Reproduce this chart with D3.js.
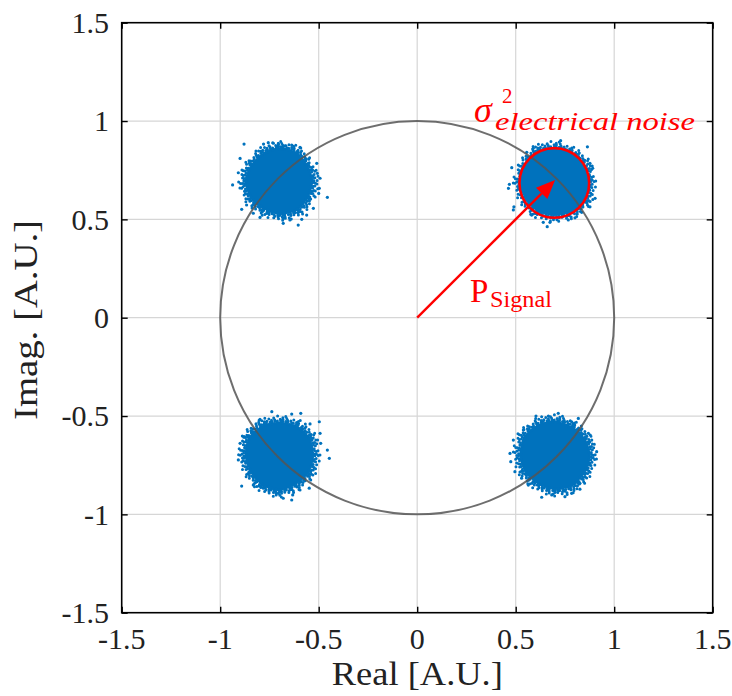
<!DOCTYPE html>
<html>
<head>
<meta charset="utf-8">
<script src="https://cdn.jsdelivr.net/npm/d3@7/dist/d3.min.js"></script>
<style>
  html, body { margin: 0; padding: 0; background: #fff; }
  svg text { font-family: "Liberation Serif", "DejaVu Serif", serif; }
</style>
</head>
<body>
<svg id="chart" width="732" height="696"></svg>
<script>
// Axis ticks (both axes share the same range)
const tickValues = [-1.5, -1, -0.5, 0, 0.5, 1, 1.5];
const tickLabels = ["-1.5", "-1", "-0.5", "0", "0.5", "1", "1.5"];

// QPSK symbol cluster centres (real, imag)
const clusterCenters = [[-0.70, 0.695], [0.70, 0.69], [-0.70, -0.70], [0.70, -0.70]];

// Dense-core outline of each cluster: radius at 0°, 30°, ... 330°
const coreRadii = [
  [0.170, 0.165, 0.170, 0.170, 0.165, 0.165, 0.175, 0.170, 0.165, 0.170, 0.175, 0.170],
  [0.175, 0.175, 0.170, 0.175, 0.180, 0.175, 0.180, 0.175, 0.175, 0.170, 0.175, 0.180],
  [0.175, 0.180, 0.175, 0.170, 0.175, 0.180, 0.175, 0.170, 0.175, 0.180, 0.170, 0.175],
  [0.180, 0.175, 0.170, 0.175, 0.180, 0.185, 0.180, 0.175, 0.170, 0.175, 0.180, 0.175]
];

// Isolated received samples around each cluster
const scatterTL = [
  [-0.879, 0.883], [-0.780, 0.883], [-0.756, 0.890], [-0.730, 0.887], [-0.705, 0.883],
  [-0.671, 0.874], [-0.637, 0.878], [-0.595, 0.866], [-0.899, 0.810], [-0.908, 0.737],
  [-0.937, 0.675], [-0.510, 0.785], [-0.507, 0.734], [-0.493, 0.709], [-0.456, 0.612],
  [-0.497, 0.658], [-0.500, 0.632], [-0.527, 0.556], [-0.891, 0.551], [-0.866, 0.573],
  [-0.832, 0.531], [-0.798, 0.510], [-0.680, 0.505], [-0.680, 0.480], [-0.604, 0.471],
  [-0.646, 0.497], [-0.561, 0.522], [-0.586, 0.500]
];
const scatterTR = [
  [0.728, 0.900], [0.864, 0.869], [0.480, 0.763], [0.468, 0.678], [0.463, 0.658],
  [0.491, 0.564], [0.488, 0.548], [0.903, 0.607], [0.891, 0.760], [0.877, 0.785],
  [0.810, 0.831], [0.556, 0.841], [0.589, 0.861], [0.581, 0.522], [0.640, 0.485],
  [0.674, 0.485], [0.767, 0.497], [0.801, 0.508], [0.835, 0.536], [0.877, 0.564],
  [0.660, 0.463]
];
const scatterBL = [
  [-0.738, -0.478], [-0.637, -0.490], [-0.591, -0.486], [-0.798, -0.517], [-0.818, -0.540],
  [-0.544, -0.540], [-0.497, -0.529], [-0.493, -0.588], [-0.490, -0.639], [-0.456, -0.673],
  [-0.446, -0.715], [-0.891, -0.856], [-0.832, -0.851], [-0.781, -0.867], [-0.705, -0.893],
  [-0.680, -0.918], [-0.637, -0.927], [-0.632, -0.901], [-0.595, -0.876], [-0.548, -0.867],
  [-0.908, -0.723], [-0.899, -0.639], [-0.879, -0.605]
];
const scatterBR = [
  [0.716, -0.486], [0.666, -0.500], [0.603, -0.500], [0.784, -0.529], [0.818, -0.512],
  [0.539, -0.571], [0.488, -0.622], [0.471, -0.690], [0.475, -0.732], [0.496, -0.783],
  [0.911, -0.681], [0.886, -0.622], [0.869, -0.588], [0.874, -0.740], [0.852, -0.774],
  [0.632, -0.913], [0.683, -0.901], [0.750, -0.910], [0.784, -0.893], [0.826, -0.872],
  [0.826, -0.842], [0.530, -0.816], [0.564, -0.851]
];

// Annotation geometry (data units)
const noiseCircle = { x: 0.696, y: 0.685, r: 0.177 };
const signalVector = { x0: 0, y0: 0, x1: 0.70, y1: 0.70 };
const unitRadius = 1;

const svg = d3.select("#chart");
const blue = "#0072BD";
const red = "#FF0000";

const x = d3.scaleLinear().domain([-1.5, 1.5]).range([121.7, 712.7]);
const y = d3.scaleLinear().domain([-1.5, 1.5]).range([612.7, 22.7]);
const ux = Math.abs(x(1) - x(0));
const uy = Math.abs(y(1) - y(0));

// Grid
const grid = svg.append("g");
grid.selectAll(".gx").data(tickValues.slice(1, -1)).join("line")
  .attr("x1", d => x(d)).attr("x2", d => x(d))
  .attr("y1", y(-1.5)).attr("y2", y(1.5))
  .attr("stroke", "#d6d6d6").attr("stroke-width", 1.2);
grid.selectAll(".gy").data(tickValues.slice(1, -1)).join("line")
  .attr("y1", d => y(d)).attr("y2", d => y(d))
  .attr("x1", x(-1.5)).attr("x2", x(1.5))
  .attr("stroke", "#d6d6d6").attr("stroke-width", 1.2);

// Constellation clusters
const blobLine = d3.line().curve(d3.curveCardinalClosed.tension(0.3));
function outline(c, radii, scale) {
  return radii.map((r, i) => {
    const a = i * Math.PI / 6;
    return [x(c[0] + scale * r * Math.cos(a)), y(c[1] + scale * r * Math.sin(a))];
  });
}
// dotted rings that give each core its grainy fringe: [scale, dash offset, dash pattern]
const fringeRings = [
  [0.97, 0.0, "0 1.8 0 2.4 0 1.6 0 2.9"],
  [1.03, 1.1, "0 2.3 0 3.1 0 1.9 0 3.6"],
  [1.08, 2.0, "0 3.2 0 4.6 0 2.7 0 5.8"],
  [1.13, 0.7, "0 4.8 0 7.1 0 3.9 0 9.4"],
  [1.18, 3.3, "0 8.5 0 12.7 0 6.1 0 15.2"]
];
const clusters = svg.append("g");
clusterCenters.forEach((c, k) => {
  const g = clusters.append("g");
  g.append("path").attr("d", blobLine(outline(c, coreRadii[k], 1)))
    .attr("fill", blue);
  fringeRings.forEach(([s, off, dash]) => {
    g.append("path").attr("d", blobLine(outline(c, coreRadii[k], s)))
      .attr("fill", "none").attr("stroke", blue).attr("stroke-width", 3)
      .attr("stroke-linecap", "round")
      .attr("stroke-dasharray", dash).attr("stroke-dashoffset", off + k * 1.7);
  });
});
[scatterTL, scatterTR, scatterBL, scatterBR].forEach(pts => {
  clusters.append("g").selectAll("circle").data(pts).join("circle")
    .attr("cx", d => x(d[0])).attr("cy", d => y(d[1]))
    .attr("r", 1.6).attr("fill", blue);
});

// Unit circle
svg.append("ellipse")
  .attr("cx", x(0)).attr("cy", y(0))
  .attr("rx", unitRadius * ux).attr("ry", unitRadius * uy)
  .attr("fill", "none").attr("stroke", "#555").attr("stroke-opacity", 0.85)
  .attr("stroke-width", 2);

// Axes box with inward ticks on all sides
const frame = svg.append("g");
frame.append("rect")
  .attr("x", x(-1.5)).attr("y", y(1.5))
  .attr("width", x(1.5) - x(-1.5)).attr("height", y(-1.5) - y(1.5))
  .attr("fill", "none").attr("stroke", "#000").attr("stroke-width", 1.6);
const tl = 6;
frame.append("g").attr("transform", `translate(0,${y(-1.5)})`)
  .call(d3.axisBottom(x).tickValues(tickValues).tickSize(-tl).tickFormat(""))
  .call(g => g.select(".domain").remove());
frame.append("g").attr("transform", `translate(0,${y(1.5)})`)
  .call(d3.axisTop(x).tickValues(tickValues).tickSize(-tl).tickFormat(""))
  .call(g => g.select(".domain").remove());
frame.append("g").attr("transform", `translate(${x(-1.5)},0)`)
  .call(d3.axisLeft(y).tickValues(tickValues).tickSize(-tl).tickFormat(""))
  .call(g => g.select(".domain").remove());
frame.append("g").attr("transform", `translate(${x(1.5)},0)`)
  .call(d3.axisRight(y).tickValues(tickValues).tickSize(-tl).tickFormat(""))
  .call(g => g.select(".domain").remove());
frame.selectAll(".tick line").attr("stroke", "#000").attr("stroke-width", 1.4);

// Tick labels
svg.append("g").selectAll("text").data(tickValues).join("text")
  .attr("x", d => x(d)).attr("y", 649)
  .attr("text-anchor", "middle").attr("font-size", 30).attr("fill", "#222")
  .text((d, i) => tickLabels[i]);
svg.append("g").selectAll("text").data(tickValues).join("text")
  .attr("x", 109).attr("y", d => y(d)).attr("dy", "0.34em")
  .attr("text-anchor", "end").attr("font-size", 30).attr("fill", "#222")
  .text((d, i) => tickLabels[i]);

// Axis titles
svg.append("text").attr("x", 417.3).attr("y", 685)
  .attr("text-anchor", "middle").attr("font-size", 34).attr("fill", "#222")
  .attr("textLength", 171).attr("lengthAdjust", "spacingAndGlyphs")
  .text("Real [A.U.]");
svg.append("text").attr("transform", "translate(37,320) rotate(-90)")
  .attr("text-anchor", "middle").attr("font-size", 33).attr("fill", "#222")
  .attr("textLength", 200).attr("lengthAdjust", "spacingAndGlyphs")
  .text("Imag.  [A.U.]");

// Noise circle around the first-quadrant symbol
svg.append("ellipse")
  .attr("cx", x(noiseCircle.x)).attr("cy", y(noiseCircle.y))
  .attr("rx", noiseCircle.r * ux).attr("ry", noiseCircle.r * uy)
  .attr("fill", "none").attr("stroke", red).attr("stroke-width", 2.6);

// Signal vector with arrowhead
const ax0 = x(signalVector.x0), ay0 = y(signalVector.y0);
const ax1 = x(signalVector.x1), ay1 = y(signalVector.y1);
const ang = Math.atan2(ay1 - ay0, ax1 - ax0);
const headLen = 19, headHalf = 8;
const bx = ax1 - headLen * Math.cos(ang), by = ay1 - headLen * Math.sin(ang);
svg.append("line")
  .attr("x1", ax0).attr("y1", ay0).attr("x2", bx).attr("y2", by)
  .attr("stroke", red).attr("stroke-width", 2.4);
svg.append("path")
  .attr("d", `M${ax1},${ay1}L${bx + headHalf * Math.sin(ang)},${by - headHalf * Math.cos(ang)}L${bx - headHalf * Math.sin(ang)},${by + headHalf * Math.cos(ang)}Z`)
  .attr("fill", red);

// Annotation labels
const sig = svg.append("text").attr("fill", red);
sig.append("tspan").attr("x", 470).attr("y", 302).attr("font-size", 33).text("P");
sig.append("tspan").attr("x", 490).attr("y", 307).attr("font-size", 24)
  .attr("textLength", 62).attr("lengthAdjust", "spacingAndGlyphs").text("Signal");

const noise = svg.append("g").attr("fill", red).attr("font-style", "italic");
noise.append("text").attr("x", 474).attr("y", 122).attr("font-size", 36).text("σ");
noise.append("text").attr("x", 502).attr("y", 103).attr("font-size", 21).attr("font-style", "normal").text("2");
noise.append("text").attr("x", 495).attr("y", 130).attr("font-size", 26)
  .attr("textLength", 200).attr("lengthAdjust", "spacingAndGlyphs").text("electrical noise");
</script>
</body>
</html>
